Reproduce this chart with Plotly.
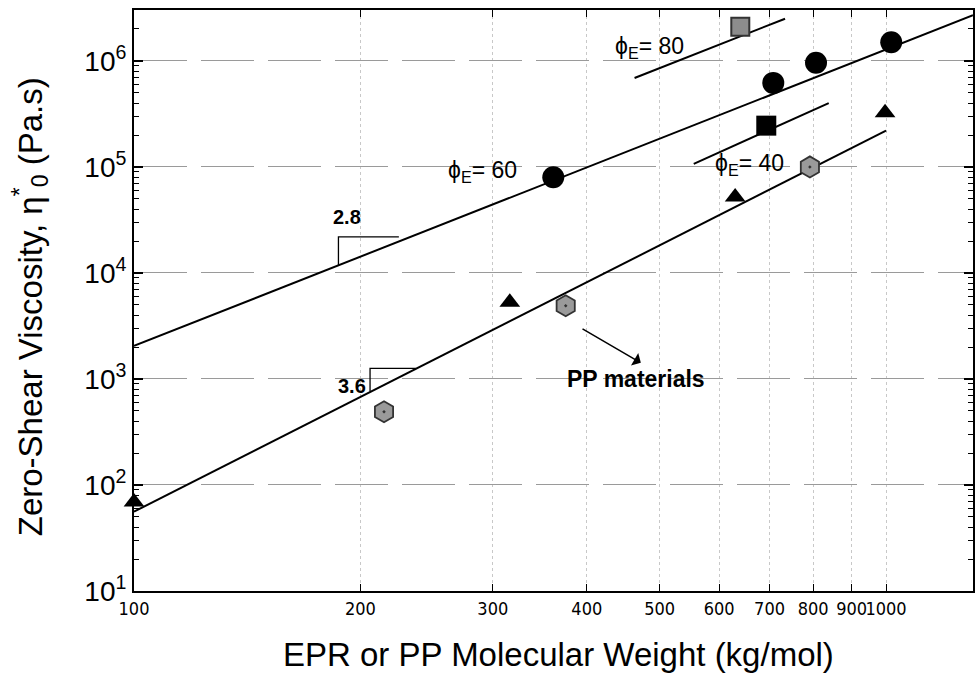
import math
import plotly.graph_objects as go

# --- measured data -------------------------------------------------------
# EPR, phi_E = 60 (filled circles)
mw_epr60 = [361, 708, 807, 1016]
eta_epr60 = [8.0e4, 6.2e5, 9.6e5, 1.5e6]
# EPR, phi_E = 80 (grey square)
mw_epr80 = [640]
eta_epr80 = [2.1e6]
# EPR, phi_E = 40 (black square)
mw_epr40 = [693]
eta_epr40 = [2.45e5]
# filled triangles
mw_tri = [100, 316, 630, 997]
eta_tri = [69, 5.3e3, 5.2e4, 3.25e5]
# PP materials (grey hexagons)
mw_pp = [215, 375, 792]
eta_pp = [490, 4.9e3, 1.0e5]

# power-law guide lines (end points)
fit60_x = [100, 1305]
fit60_y = [2.05e3, 2.7e6]
fitpp_x = [100, 1000]
fitpp_y = [56, 2.2e5]
fit80_x = [463, 734]
fit80_y = [6.9e5, 2.5e6]
fit40_x = [555, 839]
fit40_y = [1.07e5, 4.0e5]

# slope triangles
slope28_x = [187, 187, 225]
slope28_y = [1.19e4, 2.19e4, 2.19e4]
slope36_x = [206, 206, 237]
slope36_y = [7.6e2, 1.26e3, 1.26e3]

x_ticks = [100, 200, 300, 400, 500, 600, 700, 800, 900, 1000]
x_ticktext = ["100", "200", "300", "400", "500", "600", "700", "800", "900", "1000"]
y_ticks = [1e1, 1e2, 1e3, 1e4, 1e5, 1e6]
y_ticktext = ["10<sup>1</sup>", "10<sup>2</sup>", "10<sup>3</sup>",
              "10<sup>4</sup>", "10<sup>5</sup>", "10<sup>6</sup>"]
y_minor = [m * 10 ** k for k in range(1, 7) for m in range(2, 10)]

FONT = "Liberation Sans, Arial, sans-serif"
NARROW = "Liberation Sans Narrow, DejaVu Sans Condensed, Liberation Sans, sans-serif"

fig = go.Figure()

line_style = dict(color="black", width=2)
for xs, ys in [(fit60_x, fit60_y), (fitpp_x, fitpp_y), (fit80_x, fit80_y), (fit40_x, fit40_y)]:
    fig.add_trace(go.Scatter(x=xs, y=ys, mode="lines", line=line_style,
                             hoverinfo="skip", showlegend=False))
for xs, ys in [(slope28_x, slope28_y), (slope36_x, slope36_y)]:
    fig.add_trace(go.Scatter(x=xs, y=ys, mode="lines", line=dict(color="black", width=1.3),
                             hoverinfo="skip", showlegend=False))

fig.add_trace(go.Scatter(x=mw_epr60, y=eta_epr60, mode="markers", showlegend=False,
                         marker=dict(symbol="circle", size=22, color="black")))
fig.add_trace(go.Scatter(x=mw_epr80, y=eta_epr80, mode="markers", showlegend=False,
                         marker=dict(symbol="square", size=18, color="#8c8c8c",
                                     line=dict(color="#333333", width=2))))
fig.add_trace(go.Scatter(x=mw_epr40, y=eta_epr40, mode="markers", showlegend=False,
                         marker=dict(symbol="square", size=20, color="black")))
fig.add_trace(go.Scatter(x=mw_tri, y=eta_tri, mode="markers", showlegend=False,
                         cliponaxis=False,
                         marker=dict(symbol="triangle-up", size=18, color="black")))
fig.add_trace(go.Scatter(x=mw_pp, y=eta_pp, mode="markers", showlegend=False,
                         marker=dict(symbol="hexagon-dot", size=21, color="#9a9a9a",
                                     line=dict(color="#333333", width=1.8))))


def lx(v):
    return math.log10(v)


annotations = [
    dict(x=lx(291), y=lx(9.0e4), text="ϕ<sub>E</sub>= 60", font=dict(size=23)),
    dict(x=lx(485), y=lx(1.33e6), text="ϕ<sub>E</sub>= 80", font=dict(size=23)),
    dict(x=lx(658), y=lx(1.05e5), text="ϕ<sub>E</sub>= 40", font=dict(size=23)),
    dict(x=lx(192), y=lx(3.4e4), text="<b>2.8</b>", font=dict(size=20)),
    dict(x=lx(195), y=lx(8.6e2), text="<b>3.6</b>", font=dict(size=20)),
    dict(x=lx(465), y=lx(1.0e3), text="<b>PP materials</b>", font=dict(size=23)),
]
for a in annotations:
    a.update(xref="x", yref="y", showarrow=False)
    a["font"].update(family=FONT, color="black")

# arrow pointing to the PP materials label
annotations.append(dict(x=lx(472), y=lx(1.42e3), ax=lx(393), ay=lx(3.03e3),
                        xref="x", yref="y", axref="x", ayref="y", text="",
                        showarrow=True, arrowhead=1, arrowsize=1.6, arrowwidth=1.5,
                        arrowcolor="black"))

# axis titles
annotations.append(dict(xref="paper", yref="paper", x=-0.124, y=0.49,
                        xanchor="center", yanchor="middle",
                        text="Zero-Shear Viscosity, η<sup>*</sup><sub>0</sub> (Pa.s)",
                        textangle=-90, showarrow=False,
                        font=dict(family=FONT, size=33, color="black")))
annotations.append(dict(xref="paper", yref="paper", x=0.506, y=-0.110,
                        xanchor="center", yanchor="middle",
                        text="EPR or PP Molecular Weight (kg/mol)", showarrow=False,
                        font=dict(family=FONT, size=33, color="black")))

fig.update_layout(
    width=977, height=678,
    margin=dict(l=134, r=2, t=10, b=87),
    paper_bgcolor="white", plot_bgcolor="white",
    annotations=annotations,
    showlegend=False,
)

fig.update_xaxes(
    type="log", range=[2, lx(1305)],
    tickmode="array", tickvals=x_ticks, ticktext=x_ticktext,
    ticks="inside", ticklen=7, tickwidth=1.3, tickcolor="black", tickangle=0,
    tickfont=dict(family=NARROW, size=18, color="black"),
    showline=True, linecolor="black", linewidth=2, mirror="ticks",
    showgrid=True, gridcolor="#c8c8c8", griddash="dot", gridwidth=1,
    zeroline=False,
)
fig.update_yaxes(
    type="log", range=[1, 6.48],
    tickmode="array", tickvals=y_ticks, ticktext=y_ticktext,
    ticks="inside", ticklen=9, tickwidth=1.5, tickcolor="black",
    tickfont=dict(family=FONT, size=28, color="black"),
    showline=True, linecolor="black", linewidth=2, mirror="ticks",
    showgrid=True, gridcolor="#9a9a9a", griddash="53px,14px", gridwidth=1,
    zeroline=False,
    minor=dict(tickmode="array", tickvals=y_minor, ticks="inside", ticklen=5,
               tickcolor="black", tickwidth=1, showgrid=False),
)

fig.write_html("out.html")
